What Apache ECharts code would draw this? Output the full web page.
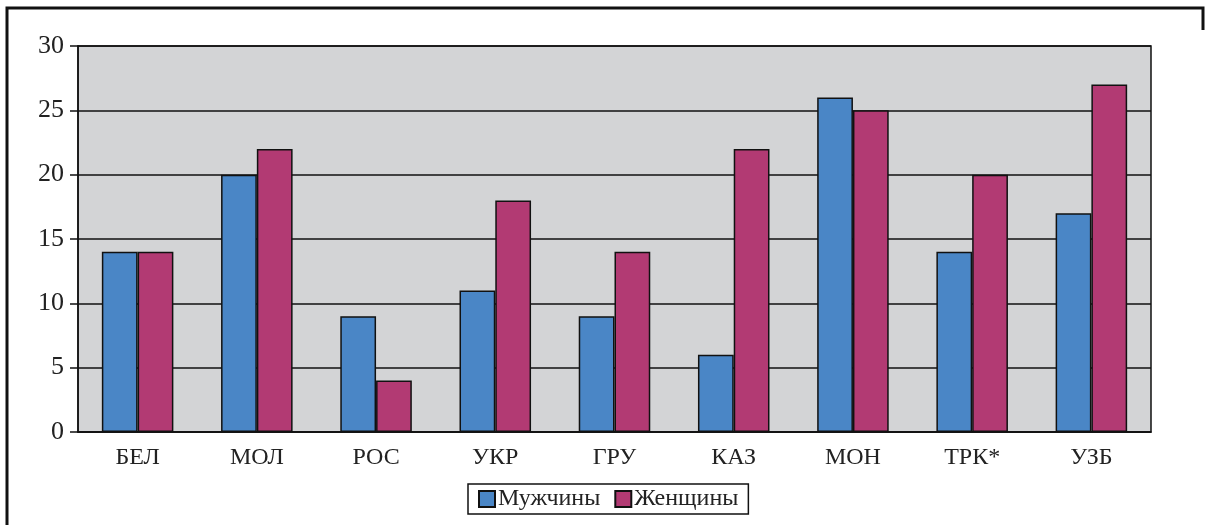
<!DOCTYPE html>
<html>
<head>
<meta charset="utf-8">
<script src="https://cdn.jsdelivr.net/npm/echarts@6/dist/echarts.min.js"></script>
<style>
  html, body { margin: 0; padding: 0; background: #fff; }
  #chart { width: 1205px; height: 525px; }
</style>
</head>
<body>
<div id="chart"></div>
<script>
const categories = ['БЕЛ', 'МОЛ', 'РОС', 'УКР', 'ГРУ', 'КАЗ', 'МОН', 'ТРК*', 'УЗБ']
const men = [14, 20, 9, 11, 9, 6, 26, 14, 17]
const women = [14, 22, 4, 18, 14, 22, 25, 20, 27]
const yTicks = { min: 0, max: 30, interval: 5 }

const font = '"Liberation Serif", "DejaVu Serif", serif'

const chart = echarts.init(document.getElementById('chart'))

chart.setOption({
  backgroundColor: '#fff',
  animation: false,
  grid: {
    left: 78,
    right: 54,
    top: 46,
    bottom: 93,
    show: true,
    backgroundColor: '#d3d4d6',
    borderColor: '#111',
    borderWidth: 1.5
  },
  legend: {
    left: 468,
    top: 484,
    itemWidth: 16,
    itemHeight: 16,
    itemGap: 14,
    padding: [3, 10, 3, 10],
    borderColor: '#111',
    borderWidth: 1.5,
    icon: 'rect',
    textStyle: { fontFamily: font, fontSize: 24, color: '#222', padding: [0, 0, 0, -2] },
    data: ['Мужчины', 'Женщины']
  },
  xAxis: {
    type: 'category',
    data: categories,
    axisLine: { lineStyle: { color: '#111', width: 1.5 } },
    axisTick: { alignWithLabel: false, length: 7, lineStyle: { color: '#111', width: 1.5 } },
    axisLabel: { fontFamily: font, fontSize: 24, color: '#222', margin: 14 }
  },
  yAxis: {
    type: 'value',
    min: yTicks.min,
    max: yTicks.max,
    interval: yTicks.interval,
    axisLine: { show: true, lineStyle: { color: '#111', width: 1.5 } },
    axisTick: { show: true, length: 8, lineStyle: { color: '#111', width: 1.5 } },
    axisLabel: { fontFamily: font, fontSize: 26, color: '#222', margin: 14 },
    splitLine: { lineStyle: { color: '#111', width: 1.5 } }
  },
  series: [
    {
      name: 'Мужчины',
      type: 'bar',
      data: men,
      barGap: '0%',
      barCategoryGap: '40%',
      itemStyle: { color: '#4a86c6', borderColor: '#111', borderWidth: 1.5 }
    },
    {
      name: 'Женщины',
      type: 'bar',
      data: women,
      itemStyle: { color: '#b23a73', borderColor: '#111', borderWidth: 1.5 }
    }
  ],
  graphic: [{
    type: 'polyline',
    shape: { points: [[7, 530], [7, 8], [1203, 8], [1203, 30]] },
    style: { stroke: '#111', lineWidth: 3, fill: null }
  }]
})
</script>
</body>
</html>
